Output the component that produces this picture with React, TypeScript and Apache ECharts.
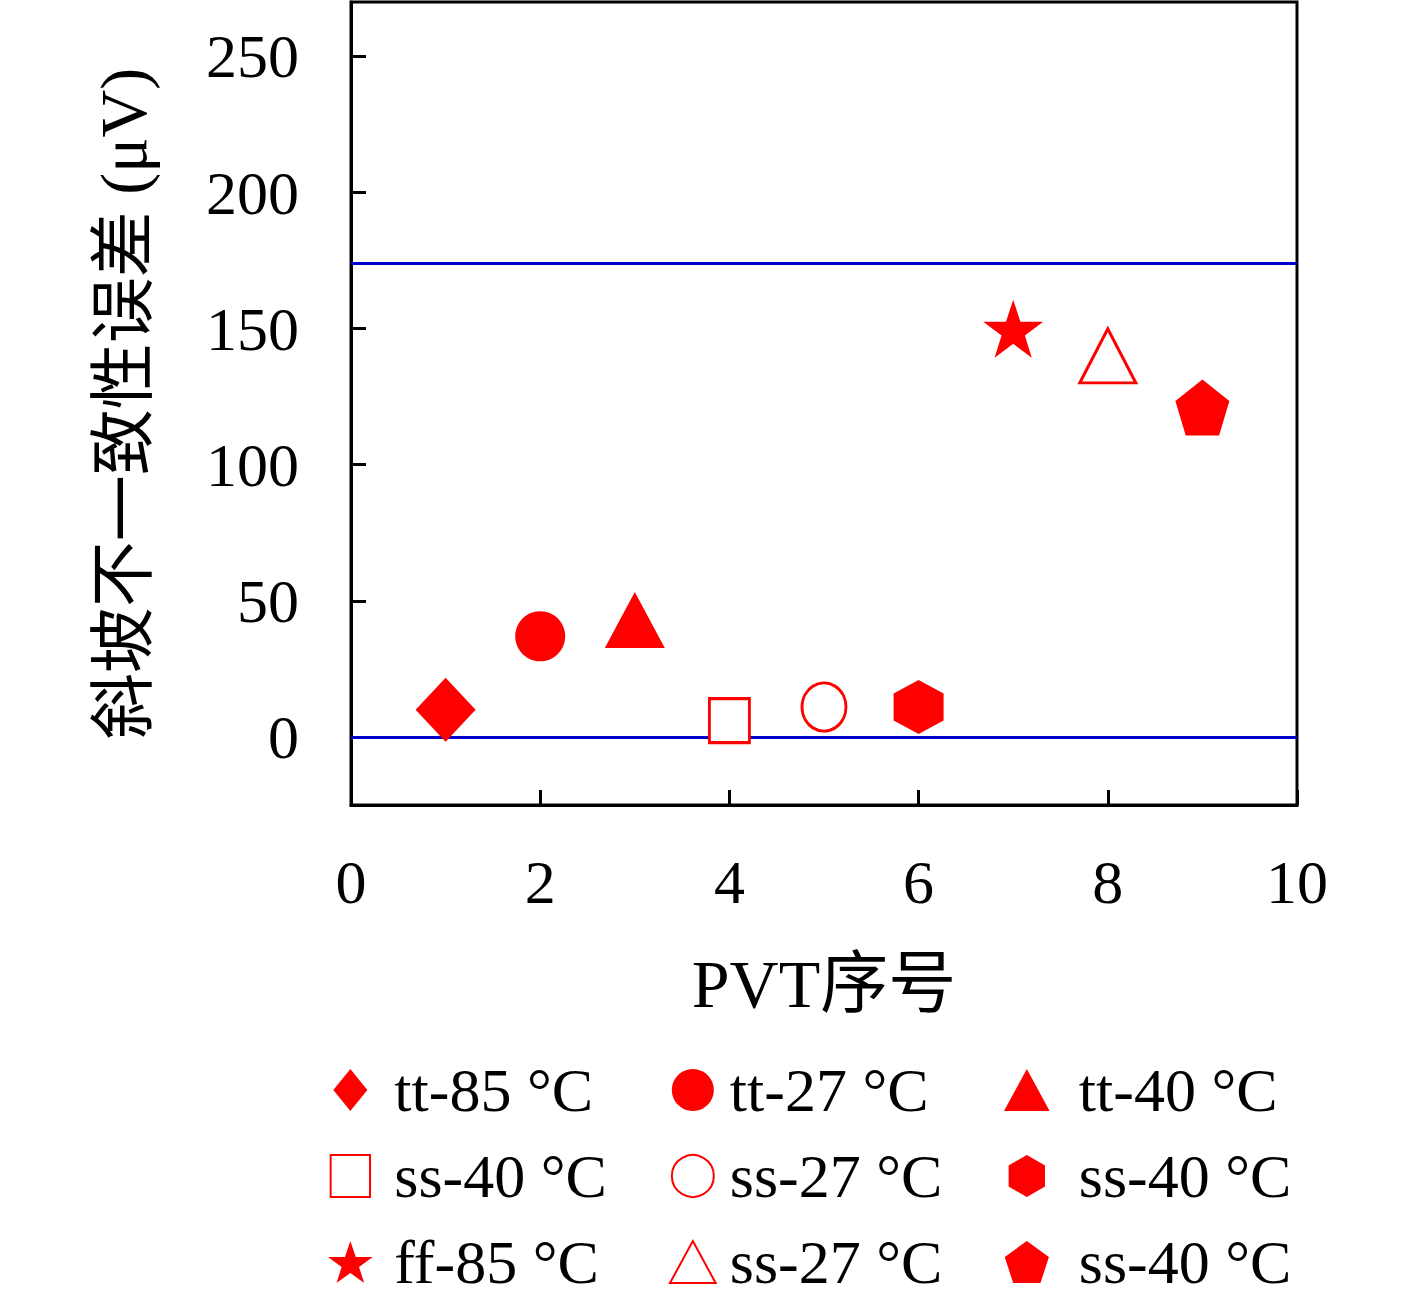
import React, { useEffect, useRef } from 'react';
import * as echarts from 'echarts';

const pvtIndex = [1, 2, 3, 4, 5, 6, 7, 8, 9];
const mismatchError = [10, 37, 43, 6, 11, 11, 150, 140, 121];
const seriesLabels = [
  'tt-85 °C', 'tt-27 °C', 'tt-40 °C',
  'ss-40 °C', 'ss-27 °C', 'ss-40 °C',
  'ff-85 °C', 'ss-27 °C', 'ss-40 °C',
];
const limitLines = [0, 174];
const yTicks = [0, 50, 100, 150, 200, 250];

// path symbols keep their aspect inside the legend box
const DIAMOND = 'path://M50,0 L93,53 L50,106 L7,53 Z';
const SQUARE = 'path://M0,0 L90,0 L90,96 L0,96 Z';
const TRIANGLE = 'path://M50,0 L100,92 L0,92 Z';
const STAR = 'path://M50,0 L61.8,35.1 L98.9,35.1 L69,56.7 L80.3,91.9 L50,70 L19.7,91.9 L31,56.7 L1.1,35.1 L38.2,35.1 Z';
const HEXAGON = 'path://M50,0 L93.3,25 L93.3,75 L50,100 L6.7,75 L6.7,25 Z';
const PENTAGON = 'path://M50,0 L97.6,34.5 L79.4,90.5 L20.6,90.5 L2.4,34.5 Z';

// symbol, size [w,h], hollow
const markers: [string, number[], boolean][] = [
  [DIAMOND, [60, 64], false],
  ['circle', [50, 50], false],
  [TRIANGLE, [60, 56], false],
  [SQUARE, [40, 44], true],
  ['circle', [44, 48], true],
  [HEXAGON, [50, 54], false],
  [STAR, [60, 58], false],
  [TRIANGLE, [56, 54], true],
  [PENTAGON, [54, 56], false],
];

const RED = '#ff0000';
const FONT = '"Liberation Serif", "Noto Sans CJK SC", serif';

function App() {
  const chartRef = useRef<HTMLDivElement>(null);

  useEffect(() => {
    document.body.style.margin = '0';
    document.body.style.background = '#ffffff';
    if (!chartRef.current) return undefined;
    const chart = echarts.init(chartRef.current, null, { renderer: 'svg' });

    const names = seriesLabels.map((l, i) => `${l}#${i}`);
    const series: any[] = pvtIndex.map((x, i) => {
      const [symbol, size, hollow] = markers[i];
      return {
        name: names[i],
        type: 'scatter',
        data: [[x, mismatchError[i]]],
        symbol,
        symbolSize: size,
        z: 5,
        itemStyle: hollow
          ? { color: '#ffffff', borderColor: RED, borderWidth: 3, opacity: 1 }
          : { color: RED, borderWidth: 0, opacity: 1 },
      };
    });
    series.push({
      type: 'line',
      data: [],
      markLine: {
        silent: true,
        symbol: 'none',
        label: { show: false },
        lineStyle: { color: '#0000cc', width: 3, type: 'solid' },
        data: limitLines.map((v) => ({ yAxis: v })),
      },
    });

    const legendBase = {
      orient: 'vertical',
      top: 1059,
      padding: 0,
      itemHeight: 42,
      itemGap: 24,
      formatter: (n: string) => n.split('#')[0],
      textStyle: { fontFamily: FONT, fontSize: 62, lineHeight: 62, color: '#000' },
    };

    chart.setOption({
      animation: false,
      backgroundColor: '#ffffff',
      grid: {
        left: 351,
        right: 120,
        top: 2,
        bottom: 495,
        show: true,
        borderColor: '#000',
        borderWidth: 3,
        backgroundColor: 'transparent',
      },
      legend: [
        { ...legendBase, left: 328, itemWidth: 78, data: [names[0], names[3], names[6]] },
        { ...legendBase, left: 669, itemWidth: 64, data: [names[1], names[4], names[7]] },
        { ...legendBase, left: 1004, itemWidth: 94, data: [names[2], names[5], names[8]] },
      ],
      xAxis: {
        type: 'value',
        min: 0,
        max: 10,
        interval: 2,
        name: 'PVT序号',
        nameLocation: 'middle',
        nameGap: 145,
        nameTextStyle: { fontFamily: FONT, fontSize: 68, color: '#000' },
        axisLine: { show: true, onZero: false, lineStyle: { color: '#000', width: 3 } },
        axisTick: { show: true, inside: true, length: 15, lineStyle: { color: '#000', width: 3 } },
        axisLabel: { margin: 46, fontFamily: FONT, fontSize: 62, color: '#000' },
        splitLine: { show: false },
      },
      yAxis: {
        type: 'value',
        min: -25,
        max: 270,
        name: '斜坡不一致性误差 (μV)',
        nameLocation: 'middle',
        nameGap: 195,
        nameTextStyle: { fontFamily: FONT, fontSize: 66, color: '#000' },
        axisLine: { show: true, onZero: false, lineStyle: { color: '#000', width: 3 } },
        axisTick: {
          show: true,
          inside: true,
          length: 15,
          customValues: yTicks,
          lineStyle: { color: '#000', width: 3 },
        },
        axisLabel: { margin: 52, customValues: yTicks, fontFamily: FONT, fontSize: 62, color: '#000' },
        splitLine: { show: false },
      },
      series,
    });

    return () => {
      chart.dispose();
    };
  }, []);

  return <div ref={chartRef} style={{ width: '1417px', height: '1300px' }} />;
}

export default App;
